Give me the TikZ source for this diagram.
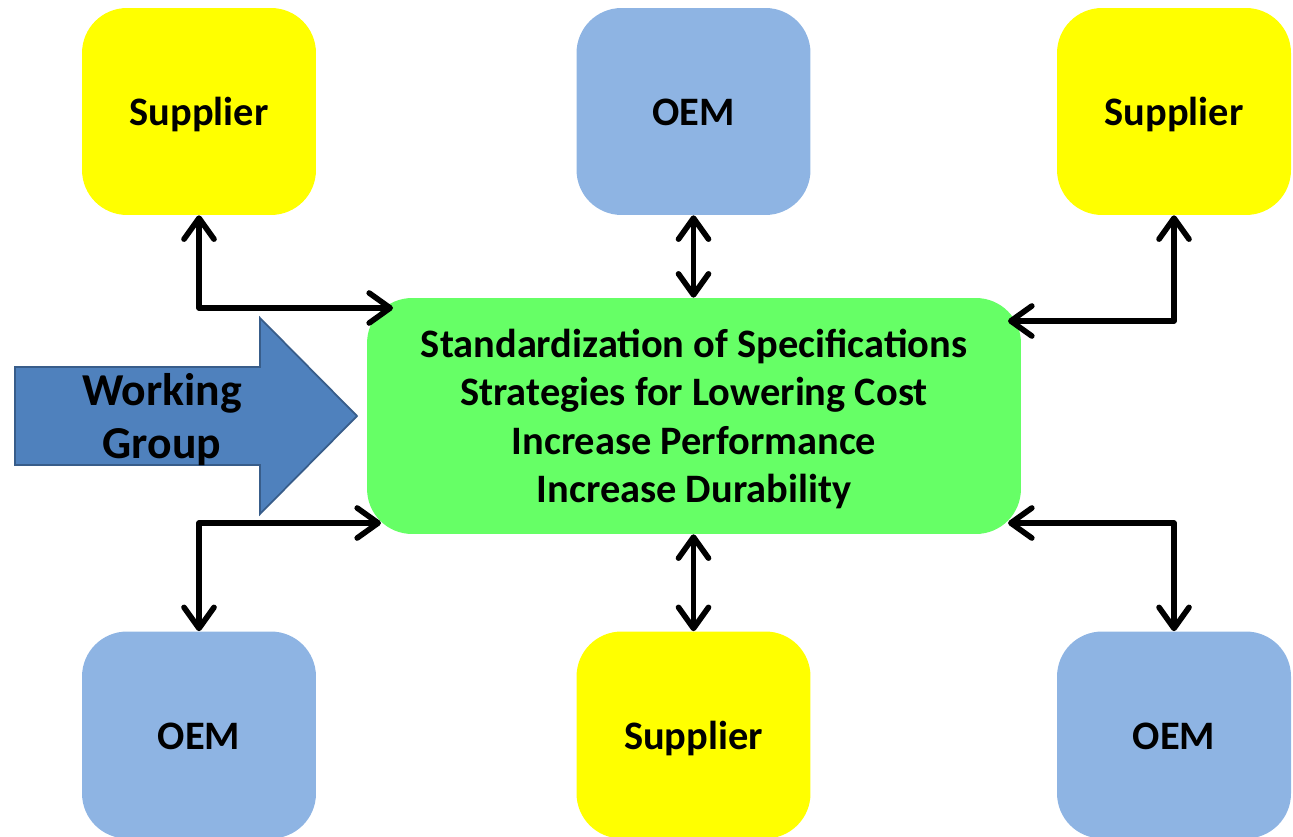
\documentclass[tikz,border=0pt]{standalone}
\usepackage{fontspec}
\setmainfont{Carlito}
\usepackage{xcolor}
\usepackage{tikz}
\usetikzlibrary{arrows.meta,positioning,calc}

\definecolor{supyellow}{HTML}{FFFF00}
\definecolor{oemblue}{HTML}{8EB4E3}
\definecolor{ctrgreen}{HTML}{66FF66}
\definecolor{wgfill}{HTML}{4F81BD}
\definecolor{wgdraw}{HTML}{385D8A}

\begin{document}
\begin{tikzpicture}[
    x=0.02cm, y=-0.02cm,
    party/.style={rectangle, rounded corners=0.9cm, minimum width=4.68cm, minimum height=4.14cm, text height=21pt, text depth=5pt, text centered, font=\fontsize{23}{27}\selectfont\bfseries},
    supplier/.style={party, fill=supyellow},
    oem/.style={party, fill=oemblue},
    goals/.style={rectangle, fill=ctrgreen, rounded corners=0.9cm, minimum width=13.08cm, minimum height=4.72cm, text depth=0pt, align=center, font=\fontsize{23}{27.6}\selectfont\bfseries},
    conn/.style={line width=3.2pt, line cap=round, line join=round, {Straight Barb[length=0.42cm,width=0.6cm,line cap=round,line join=round]}-{Straight Barb[length=0.42cm,width=0.6cm,line cap=round,line join=round]}}
]
    \useasboundingbox (0,0) rectangle (1293,837);

    % Working group arrow
    \filldraw[fill=wgfill, draw=wgdraw, line width=1pt] (15,367) -- (260,367) -- (260,318) -- (357,416) -- (260,514) -- (260,465) -- (15,465) -- cycle;
    \node[align=center, text depth=0pt, font=\fontsize{26}{30}\selectfont\bfseries] (wg) at (162,416) {Working\\Group};

    % Centre
    \node[goals] (ctr) at (694,416) {Standardization of Specifications\\Strategies for Lowering Cost\\Increase Performance\\Increase Durability};

    % Top row
    \node[supplier] (supTL) at (199,111.5) {Supplier};
    \node[oem] (oemT) at (693.5,111.5) {OEM};
    \node[supplier] (supTR) at (1174,111.5) {Supplier};

    % Bottom row
    \node[oem] (oemBL) at (199,735) {OEM};
    \node[supplier] (supB) at (693.5,735) {Supplier};
    \node[oem] (oemBR) at (1174,735) {OEM};

    % Arrow ends on the centre box
    \coordinate (tlIn) at (393,308);
    \coordinate (trIn) at (1008,321);
    \coordinate (blIn) at (381,523);
    \coordinate (brIn) at (1008,523);

    % Links
    \draw[conn] (supTL.south) |- (tlIn);
    \draw[conn] (oemT.south) -- (oemT.south |- ctr.north);
    \draw[conn] (supTR.south) |- (trIn);
    \draw[conn] (oemBL.north) |- (blIn);
    \draw[conn] (supB.north) -- (supB.north |- ctr.south);
    \draw[conn] (oemBR.north) |- (brIn);
\end{tikzpicture}
\end{document}
